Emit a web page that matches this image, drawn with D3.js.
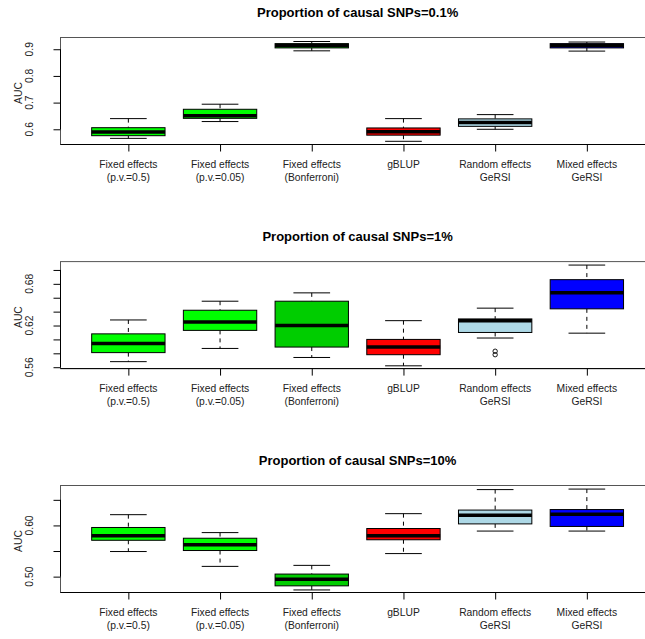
<!DOCTYPE html>
<html>
<head>
<meta charset="utf-8">
<script src="https://cdn.jsdelivr.net/npm/d3@7"></script>
<style>
  html, body { margin: 0; padding: 0; background: #fff; }
  svg { display: block; font-family: "Liberation Sans", Arial, Helvetica, sans-serif; }
</style>
</head>
<body>
<script>
// Methods compared (x-axis categories, two-line labels)
const methodLine1 = ["Fixed effects", "Fixed effects", "Fixed effects", "gBLUP", "Random effects", "Mixed effects"];
const methodLine2 = ["(p.v.=0.5)", "(p.v.=0.05)", "(Bonferroni)", "", "GeRSI", "GeRSI"];
const methodColors = ["#00ff00", "#00ff00", "#00cd00", "#ff0000", "#add8e6", "#0000ff"];

const panelTitles = [
  "Proportion of causal SNPs=0.1%",
  "Proportion of causal SNPs=1%",
  "Proportion of causal SNPs=10%"
];

// AUC box statistics per panel: whisker ends, quartiles, medians
const p1Low    = [0.566, 0.629, 0.894, 0.555, 0.600, 0.893];
const p1Q1     = [0.576, 0.641, 0.905, 0.578, 0.611, 0.905];
const p1Median = [0.590, 0.651, 0.914, 0.591, 0.625, 0.914];
const p1Q3     = [0.606, 0.675, 0.921, 0.605, 0.639, 0.921];
const p1High   = [0.640, 0.694, 0.929, 0.640, 0.655, 0.927];
const p1Out    = [[], [], [], [], [], []];

const p2Low    = [0.568, 0.587, 0.574, 0.562, 0.602, 0.609];
const p2Q1     = [0.581, 0.613, 0.589, 0.578, 0.610, 0.644];
const p2Median = [0.594, 0.625, 0.620, 0.589, 0.627, 0.667];
const p2Q3     = [0.608, 0.642, 0.655, 0.600, 0.6295, 0.686];
const p2High   = [0.628, 0.655, 0.667, 0.627, 0.645, 0.707];
const p2Out    = [[], [], [], [], [0.583, 0.578], []];

const p3Low    = [0.549, 0.520, 0.474, 0.545, 0.589, 0.589];
const p3Q1     = [0.571, 0.551, 0.482, 0.572, 0.603, 0.598];
const p3Median = [0.580, 0.5625, 0.495, 0.580, 0.620, 0.622];
const p3Q3     = [0.596, 0.575, 0.505, 0.594, 0.630, 0.631];
const p3High   = [0.621, 0.586, 0.522, 0.623, 0.670, 0.671];
const p3Out    = [[], [], [], [], [], []];

// y-axis ranges, ticks and which ticks carry a label
const yLimits = [[0.543, 0.944], [0.558, 0.712], [0.469, 0.678]];
const yTicks = [
  [0.6, 0.7, 0.8, 0.9],
  [0.56, 0.58, 0.60, 0.62, 0.64, 0.66, 0.68, 0.70],
  [0.50, 0.55, 0.60, 0.65]
];
const yTickLabels = [
  ["0.6", "0.7", "0.8", "0.9"],
  ["0.56", "", "", "0.62", "", "", "0.68", ""],
  ["0.50", "", "0.60", ""]
];
const yLabel = "AUC";

const panelStats = [
  [p1Low, p1Q1, p1Median, p1Q3, p1High, p1Out],
  [p2Low, p2Q1, p2Median, p2Q3, p2High, p2Out],
  [p3Low, p3Q1, p3Median, p3Q3, p3High, p3Out]
];

const W = 645, H = 639;
const svg = d3.select("body").append("svg").attr("width", W).attr("height", H);

const plotLeft = 60.5;
const step = 91.7;
const plotRight = plotLeft + 6.48 * step;
const plotH = 107;
const panelTop = [37.5, 261.6, 485.5];
const boxW = step * 0.8;
const stapleW = boxW / 2;

const keys = d3.range(6);
const x = d3.scalePoint()
  .domain(keys)
  .range([plotLeft + 0.74 * step, plotLeft + 5.74 * step]);

panelStats.forEach((st, pi) => {
  const [low, q1, med, q3, high, outs] = st;
  const top = panelTop[pi], bottom = top + plotH;
  const y = d3.scaleLinear().domain(yLimits[pi]).range([bottom, top]);
  const g = svg.append("g");

  // title
  g.append("text")
    .attr("x", (plotLeft + plotRight) / 2)
    .attr("y", top - 25)
    .attr("dy", "0.35em")
    .attr("text-anchor", "middle")
    .attr("font-weight", "bold")
    .attr("font-size", 13)
    .text(panelTitles[pi]);

  // frame
  g.append("rect")
    .attr("x", plotLeft).attr("y", top)
    .attr("width", plotRight - plotLeft).attr("height", plotH)
    .attr("fill", "none").attr("stroke", "#555").attr("stroke-width", 1);

  // y axis
  const labels = yTickLabels[pi];
  const yAxis = d3.axisLeft(y)
    .tickValues(yTicks[pi])
    .tickSize(7)
    .tickPadding(0)
    .tickFormat("");
  const ya = g.append("g").attr("transform", `translate(${plotLeft},0)`).call(yAxis);
  ya.select(".domain").remove();
  ya.selectAll(".tick line").attr("stroke", "#000");
  g.append("line")
    .attr("x1", plotLeft).attr("x2", plotLeft)
    .attr("y1", y(yTicks[pi][0])).attr("y2", y(yTicks[pi][yTicks[pi].length - 1]))
    .attr("stroke", "#000");
  yTicks[pi].forEach((v, i) => {
    if (!labels[i]) return;
    g.append("text")
      .attr("transform", `translate(29.5,${y(v)}) rotate(-90)`)
      .attr("text-anchor", "middle")
      .attr("dy", "0.35em")
      .attr("font-size", 10.3)
      .attr("fill", "#222")
      .text(labels[i]);
  });
  g.append("text")
    .attr("transform", `translate(18,${(top + bottom) / 2 + 2}) rotate(-90)`)
    .attr("text-anchor", "middle")
    .attr("dy", "0.35em")
    .attr("font-size", 10.3)
    .attr("fill", "#222")
    .text(yLabel);

  // x axis
  const xAxis = d3.axisBottom(x).tickSize(7).tickFormat("");
  const xa = g.append("g").attr("transform", `translate(0,${bottom})`).call(xAxis);
  xa.select(".domain").remove();
  xa.selectAll(".tick line").attr("stroke", "#000");
  g.append("line")
    .attr("x1", plotLeft).attr("x2", plotRight)
    .attr("y1", bottom).attr("y2", bottom)
    .attr("stroke", "#000");
  keys.forEach(k => {
    g.append("text")
      .attr("x", x(k)).attr("y", bottom + 20)
      .attr("dy", "0.35em").attr("text-anchor", "middle")
      .attr("font-size", 10.3).attr("fill", "#222")
      .text(methodLine1[k]);
    if (methodLine2[k]) {
      g.append("text")
        .attr("x", x(k)).attr("y", bottom + 32.5)
        .attr("dy", "0.35em").attr("text-anchor", "middle")
        .attr("font-size", 10.3).attr("fill", "#222")
        .text(methodLine2[k]);
    }
  });

  // boxes
  keys.forEach(k => {
    const cx = x(k);
    const bg = g.append("g");
    // dashed whiskers
    bg.append("line")
      .attr("x1", cx).attr("x2", cx)
      .attr("y1", y(high[k])).attr("y2", y(q3[k]))
      .attr("stroke", "#000").attr("stroke-dasharray", "4,4");
    bg.append("line")
      .attr("x1", cx).attr("x2", cx)
      .attr("y1", y(q1[k])).attr("y2", y(low[k]))
      .attr("stroke", "#000").attr("stroke-dasharray", "4,4");
    // staples
    [low[k], high[k]].forEach(v => {
      bg.append("line")
        .attr("x1", cx - stapleW / 2).attr("x2", cx + stapleW / 2)
        .attr("y1", y(v)).attr("y2", y(v))
        .attr("stroke", "#000");
    });
    // box
    bg.append("rect")
      .attr("x", cx - boxW / 2).attr("y", y(q3[k]))
      .attr("width", boxW).attr("height", y(q1[k]) - y(q3[k]))
      .attr("fill", methodColors[k]).attr("stroke", "#000").attr("stroke-width", 1);
    // median
    bg.append("line")
      .attr("x1", cx - boxW / 2).attr("x2", cx + boxW / 2)
      .attr("y1", y(med[k])).attr("y2", y(med[k]))
      .attr("stroke", "#000").attr("stroke-width", 3.5);
    // outliers
    outs[k].forEach(v => {
      bg.append("circle")
        .attr("cx", cx).attr("cy", y(v)).attr("r", 2.2)
        .attr("fill", "none").attr("stroke", "#000").attr("stroke-width", 0.9);
    });
  });
});
</script>
</body>
</html>
